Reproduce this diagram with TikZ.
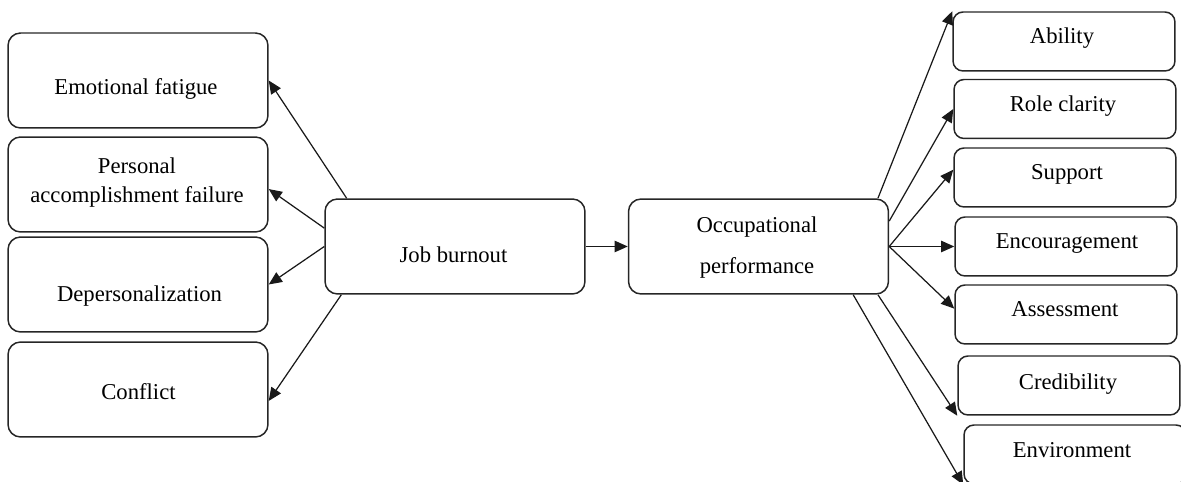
\documentclass[tikz,border=0pt]{standalone}
\usepackage{fontspec}
\setmainfont{Liberation Serif}
\usepackage{tikz}
\usetikzlibrary{arrows.meta}

\begin{document}
\begin{tikzpicture}[x=0.02cm, y=-0.02cm,
  lbox/.style={draw=black!85, line width=0.85pt, rounded corners=0.25cm,
    minimum width=5.2cm, minimum height=1.9cm, inner sep=0pt},
  rbox/.style={draw=black!85, line width=0.85pt, rounded corners=0.2cm,
    minimum width=4.44cm, minimum height=1.18cm, inner sep=0pt},
  txt/.style={font=\fontsize{12.9}{16.4}\selectfont, inner sep=0pt, anchor=base},
  arr/.style={-{Triangle[length=7.5pt,width=6.5pt]}, line width=0.7pt, black!90}]
  \useasboundingbox (0,0) rectangle (1181,482);

  \node[lbox] (emofat)   at (138,80.5)  {};
  \node[lbox] (persacc)  at (138,184.5) {};
  \node[lbox] (deperson) at (138,284.5) {};
  \node[lbox] (conflict) at (138,389.5) {};
  \node[lbox] (burnout)  at (455,246.5) {};
  \node[lbox] (occperf)  at (758.5,246.5) {};

  \node[rbox] (ability)  at (1064,41.5)  {};
  \node[rbox] (roleclar) at (1065,109)   {};
  \node[rbox] (support)  at (1065,177.5) {};
  \node[rbox] (encour)   at (1066,246.5) {};
  \node[rbox] (assess)   at (1066,314.5) {};
  \node[rbox] (cred)     at (1069,385.5) {};
  \node[rbox] (environ)  at (1075,454.5) {};

  \node[txt] (emofat-t) at (136,95) {Emotional fatigue};
  \node[txt, align=center, anchor=center] (persacc-t) at (137,182.3)
    {Personal\\accomplishment failure};
  \node[txt] (deperson-t) at (139.5,301.7) {Depersonalization};
  \node[txt] (conflict-t) at (138.5,400) {Conflict};
  \node[txt] (burnout-t) at (453.5,263) {Job burnout};
  \node[txt, align=center, anchor=center] (occperf-t) at (757,247.4)
    {Occupational\\[6.85pt]performance};

  \node[txt] (ability-t)  at (1062,44)  {Ability};
  \node[txt] (roleclar-t) at (1063,112) {Role clarity};
  \node[txt] (support-t)  at (1067,180) {Support};
  \node[txt] (encour-t)   at (1067,249) {Encouragement};
  \node[txt] (assess-t)   at (1065,317) {Assessment};
  \node[txt] (cred-t)     at (1068,390) {Credibility};
  \node[txt] (environ-t)  at (1072,458) {Environment};

  \draw[arr] (burnout.156) -- (emofat.east);
  \draw[arr] (burnout.172) -- (persacc.-2);
  \draw[arr] (burnout.west) -- (deperson.east);
  \draw[arr] (burnout.203) -- (conflict.-5.5);
  \draw[arr] (burnout.east) -- (occperf.west);

  \draw[arr] (occperf.22) -- (ability.north west);
  \draw[arr] (occperf.11) -- (roleclar.west);
  \draw[arr] (occperf.east) -- (support.176);
  \draw[arr] (occperf.east) -- (encour.west);
  \draw[arr] (occperf.east) -- (assess.177);
  \draw[arr] (occperf.-22) -- (cred.south west);
  \draw[arr] (occperf.-27) -- (environ.south west);
\end{tikzpicture}
\end{document}
